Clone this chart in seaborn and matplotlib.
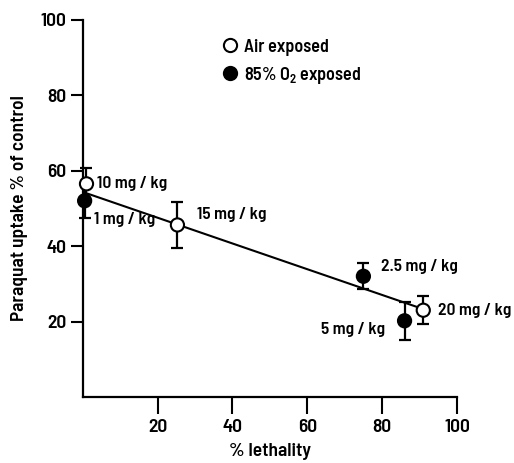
import matplotlib
matplotlib.use("Agg")
import matplotlib.pyplot as plt
import seaborn as sns
import pandas as pd
import numpy as np

# ---- data ----
doses = ["10 mg / kg", "1 mg / kg", "15 mg / kg", "2.5 mg / kg", "5 mg / kg", "20 mg / kg"]
groups = ["Air exposed", "85% O$_2$ exposed", "Air exposed", "85% O$_2$ exposed", "85% O$_2$ exposed", "Air exposed"]
lethality = [1.0, 0.5, 25.3, 75.0, 86.0, 91.0]
uptake = [56.5, 52.0, 45.6, 32.0, 20.2, 23.0]
err = [4.3, 4.5, 6.2, 3.5, 5.0, 3.7]
fit_x = [1.0, 91.0]
fit_y = [54.0, 23.3]
label_x = [3.7, 3.0, 30.5, 79.7, 63.6, 95.0]
label_y = [56.5, 47.0, 48.3, 34.7, 18.0, 23.0]
xticks = [20, 40, 60, 80, 100]
yticks = [20, 40, 60, 80, 100]

sns.set_theme(style="white")
FONTNAME = "Barlow Semi Condensed"
FONT = [FONTNAME, "DejaVu Sans"]
plt.rcParams["font.family"] = FONT
plt.rcParams["text.color"] = "black"
plt.rcParams["axes.labelcolor"] = "black"
plt.rcParams["mathtext.fontset"] = "custom"
plt.rcParams["mathtext.rm"] = FONTNAME + ":semibold"
plt.rcParams["mathtext.it"] = FONTNAME + ":semibold"
plt.rcParams["mathtext.bf"] = FONTNAME + ":bold"
WT = 600

df = pd.DataFrame({"dose": doses, "group": groups, "x": lethality, "y": uptake, "err": err})

fig = plt.figure(figsize=(5.14, 4.63), dpi=100)
ax = fig.add_axes([0.161, 0.1425, 0.728, 0.815])

sns.lineplot(x=fit_x, y=fit_y, ax=ax, color="black", linewidth=1.5, zorder=2)

ax.errorbar(df["x"], df["y"], yerr=df["err"], fmt="none", ecolor="black",
            elinewidth=1.6, capsize=4.5, capthick=1.6, zorder=3, clip_on=False)

sns.scatterplot(data=df, x="x", y="y", hue="group", style="group",
                palette={"Air exposed": "white", "85% O$_2$ exposed": "black"},
                markers={"Air exposed": "o", "85% O$_2$ exposed": "o"},
                s=90, edgecolor="black", linewidth=1.5, ax=ax, zorder=4, clip_on=False,
                legend=True)

for t, lx, ly in zip(doses, label_x, label_y):
    ax.text(lx, ly, t, fontsize=12.5, fontweight=WT, va="center", ha="left", color="black")

leg = ax.legend(loc="upper left", bbox_to_anchor=(0.369, 0.95), frameon=False,
                fontsize=13, handlelength=1.0, handletextpad=0.3, labelspacing=0.5,
                borderaxespad=0, borderpad=0)
for txt in leg.get_texts():
    txt.set_fontweight(WT)
    txt.set_color("black")
for h in leg.legend_handles:
    try:
        h.set_markeredgecolor("black")
        h.set_markeredgewidth(1.5)
    except AttributeError:
        h.set_edgecolor("black")
        h.set_linewidth(1.5)

ax.set_xlim(0, 100)
ax.set_ylim(0, 100)
ax.set_xticks(xticks)
ax.set_yticks(yticks)
ax.set_xticklabels([str(v) for v in xticks], fontsize=14, fontweight=WT)
ax.set_yticklabels([str(v) for v in yticks], fontsize=14, fontweight=WT)
ax.tick_params(axis="x", direction="out", length=12, width=1.5, pad=4, bottom=True, colors="black")
ax.tick_params(axis="y", direction="out", length=9, width=1.5, pad=3, left=True, colors="black")
for s in ["top", "right"]:
    ax.spines[s].set_visible(False)
for s in ["left", "bottom"]:
    ax.spines[s].set_linewidth(1.6)
    ax.spines[s].set_color("black")

ax.set_xlabel("% lethality", fontsize=14, fontweight=WT, labelpad=5)
ax.set_ylabel("Paraquat uptake % of control", fontsize=14, fontweight=WT, labelpad=9)

fig.savefig("out.png", dpi=100)
